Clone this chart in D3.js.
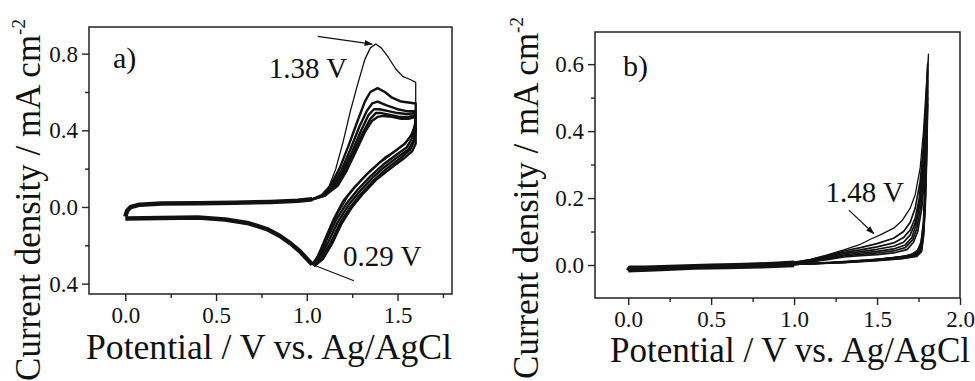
<!DOCTYPE html>
<html>
<head>
<meta charset="utf-8">
<script src="https://cdn.jsdelivr.net/npm/d3@7"></script>
</head>
<body style="margin:0">
<svg id="chart" width="975" height="381" font-family="Liberation Serif"></svg>
<script>
var FONT = "Liberation Serif";

// ---------- data: panel a (CV cycles, potential V, current mA cm-2) ----------
var aLowFwd = [[0.0,-0.05],[0.01,-0.02],[0.03,0.0],[0.08,0.012],[0.2,0.018],[0.4,0.02],[0.6,0.022],[0.8,0.026],[0.95,0.032],[1.03,0.04]];
var aLowRev = [[1.03,-0.3],[1.0,-0.27],[0.96,-0.23],[0.91,-0.19],[0.85,-0.15],[0.78,-0.115],[0.68,-0.085],[0.55,-0.065],[0.4,-0.055],[0.2,-0.057],[0.0,-0.06]];

var aCycle1 = [[1.03,0.04],[1.08,0.055],[1.12,0.1],[1.16,0.2],[1.2,0.34],[1.24,0.5],[1.28,0.64],[1.32,0.77],[1.35,0.83],[1.38,0.85],[1.41,0.83],[1.45,0.78],[1.49,0.72],[1.53,0.68],[1.57,0.665],[1.6,0.65],
  [1.6,0.55],[1.6,0.48],[1.59,0.41],[1.56,0.35],[1.5,0.3],[1.43,0.26],[1.36,0.2],[1.29,0.13],[1.23,0.06],[1.18,-0.02],[1.13,-0.11],[1.09,-0.2],[1.05,-0.27],[1.03,-0.3]];
var aCycle2 = [[1.03,0.04],[1.08,0.06],[1.13,0.11],[1.18,0.2],[1.23,0.32],[1.28,0.45],[1.32,0.55],[1.35,0.6],[1.39,0.62],[1.43,0.6],[1.47,0.57],[1.52,0.55],[1.56,0.545],[1.6,0.54],
  [1.6,0.5],[1.6,0.44],[1.58,0.38],[1.54,0.33],[1.47,0.28],[1.4,0.23],[1.33,0.17],[1.26,0.1],[1.2,0.03],[1.15,-0.06],[1.1,-0.17],[1.06,-0.26],[1.03,-0.3]];
var aCycle3 = [[1.03,0.04],[1.09,0.06],[1.14,0.11],[1.19,0.19],[1.24,0.3],[1.29,0.42],[1.33,0.5],[1.36,0.54],[1.39,0.55],[1.44,0.53],[1.5,0.51],[1.55,0.5],[1.6,0.5],
  [1.6,0.46],[1.6,0.41],[1.58,0.36],[1.55,0.31],[1.49,0.27],[1.42,0.22],[1.35,0.16],[1.28,0.09],[1.22,0.02],[1.16,-0.07],[1.11,-0.17],[1.07,-0.26],[1.03,-0.3]];
var aCycle4 = [[1.03,0.04],[1.09,0.06],[1.15,0.11],[1.2,0.19],[1.25,0.29],[1.3,0.4],[1.34,0.48],[1.37,0.51],[1.4,0.51],[1.45,0.5],[1.5,0.49],[1.55,0.485],[1.6,0.49],
  [1.6,0.45],[1.6,0.4],[1.59,0.35],[1.56,0.3],[1.5,0.26],[1.43,0.21],[1.36,0.15],[1.29,0.08],[1.23,0.01],[1.17,-0.08],[1.12,-0.18],[1.07,-0.27],[1.03,-0.3]];
var aCycle5 = [[1.03,0.04],[1.1,0.06],[1.16,0.11],[1.21,0.19],[1.26,0.29],[1.31,0.39],[1.35,0.46],[1.38,0.49],[1.41,0.49],[1.46,0.48],[1.51,0.47],[1.56,0.47],[1.6,0.48],
  [1.6,0.44],[1.6,0.39],[1.59,0.34],[1.57,0.3],[1.51,0.25],[1.44,0.2],[1.37,0.14],[1.3,0.07],[1.24,0.0],[1.18,-0.09],[1.13,-0.19],[1.08,-0.27],[1.03,-0.3]];
var aCycle6 = [[1.03,0.04],[1.1,0.06],[1.17,0.11],[1.22,0.19],[1.27,0.29],[1.32,0.39],[1.36,0.45],[1.39,0.47],[1.42,0.475],[1.47,0.47],[1.52,0.46],[1.56,0.46],[1.6,0.47],
  [1.6,0.43],[1.6,0.38],[1.6,0.33],[1.58,0.29],[1.53,0.25],[1.46,0.2],[1.38,0.14],[1.31,0.07],[1.25,0.0],[1.19,-0.09],[1.14,-0.19],[1.09,-0.27],[1.04,-0.31]];

// ---------- data: panel b ----------
var bLowFwd = [[0.0,-0.017],[0.01,-0.009],[0.1,-0.009],[0.3,-0.006],[0.5,-0.003],[0.7,-0.001],[0.9,0.003],[1.0,0.006]];
var bLowRev = [[1.0,0.001],[0.8,-0.003],[0.6,-0.005],[0.4,-0.007],[0.2,-0.011],[0.0,-0.015]];

var bCycle1 = [[1.0,0.008],[1.1,0.017],[1.2,0.03],[1.3,0.045],[1.4,0.062],[1.46,0.077],[1.52,0.09],[1.6,0.11],[1.65,0.132],[1.7,0.17],[1.73,0.21],[1.76,0.29],[1.78,0.4],[1.795,0.52],[1.81,0.63],
  [1.805,0.55],[1.8,0.45],[1.795,0.33],[1.788,0.2],[1.78,0.12],[1.765,0.07],[1.745,0.045],[1.7,0.03],[1.6,0.022],[1.45,0.015],[1.3,0.01],[1.15,0.005],[1.0,0.002]];
var bCycle2 = [[1.0,0.008],[1.1,0.016],[1.2,0.028],[1.3,0.042],[1.4,0.052],[1.5,0.064],[1.6,0.08],[1.66,0.1],[1.7,0.128],[1.73,0.17],[1.76,0.25],[1.78,0.36],[1.795,0.48],[1.805,0.6],
  [1.802,0.5],[1.797,0.38],[1.79,0.25],[1.78,0.13],[1.765,0.065],[1.74,0.038],[1.68,0.027],[1.55,0.019],[1.4,0.012],[1.2,0.006],[1.0,0.002]];
var bCycle3 = [[1.0,0.007],[1.1,0.014],[1.2,0.025],[1.3,0.038],[1.4,0.045],[1.5,0.054],[1.6,0.066],[1.66,0.082],[1.7,0.105],[1.73,0.14],[1.755,0.2],[1.775,0.3],[1.792,0.44],[1.805,0.58],
  [1.802,0.48],[1.797,0.35],[1.79,0.22],[1.78,0.12],[1.765,0.06],[1.74,0.035],[1.66,0.025],[1.5,0.017],[1.3,0.01],[1.0,0.002]];
var bCycle4 = [[1.0,0.006],[1.1,0.012],[1.2,0.022],[1.3,0.034],[1.4,0.04],[1.5,0.047],[1.6,0.056],[1.66,0.068],[1.7,0.09],[1.73,0.125],[1.755,0.19],[1.775,0.29],[1.792,0.42],[1.805,0.55],
  [1.802,0.46],[1.797,0.33],[1.79,0.2],[1.78,0.1],[1.765,0.055],[1.74,0.033],[1.65,0.024],[1.5,0.016],[1.3,0.009],[1.0,0.002]];
var bCycle5 = [[1.0,0.005],[1.1,0.011],[1.2,0.02],[1.3,0.03],[1.4,0.036],[1.5,0.041],[1.6,0.048],[1.67,0.06],[1.71,0.082],[1.735,0.12],[1.76,0.19],[1.78,0.29],[1.795,0.41],[1.805,0.52],
  [1.802,0.44],[1.797,0.31],[1.79,0.19],[1.78,0.1],[1.767,0.05],[1.74,0.03],[1.65,0.022],[1.5,0.015],[1.3,0.008],[1.0,0.002]];
var bCycle6 = [[1.0,0.005],[1.1,0.01],[1.2,0.018],[1.3,0.027],[1.4,0.032],[1.5,0.036],[1.6,0.042],[1.67,0.052],[1.715,0.075],[1.74,0.11],[1.765,0.18],[1.783,0.28],[1.797,0.4],[1.805,0.5],
  [1.802,0.42],[1.797,0.3],[1.79,0.18],[1.78,0.09],[1.768,0.045],[1.74,0.028],[1.65,0.02],[1.5,0.014],[1.3,0.008],[1.0,0.002]];
var bCycle7 = [[1.0,0.004],[1.1,0.009],[1.2,0.016],[1.3,0.024],[1.4,0.028],[1.5,0.031],[1.6,0.036],[1.68,0.046],[1.72,0.068],[1.745,0.1],[1.77,0.17],[1.787,0.27],[1.798,0.38],[1.805,0.48],
  [1.802,0.4],[1.797,0.28],[1.79,0.17],[1.78,0.085],[1.768,0.04],[1.74,0.026],[1.65,0.019],[1.5,0.013],[1.3,0.007],[1.0,0.002]];

// ---------- ticks and labels ----------
var aYTicks = [0.8, 0.4, 0.0, -0.4];
var aYTickLabels = ["0.8", "0.4", "0.0", "0.4"];
var aYMinor = [0.6, 0.2, -0.2];
var aXTicks = [0.0, 0.5, 1.0, 1.5];
var aXMinor = [0.25, 0.75, 1.25, 1.75];

var bYTicks = [0.6, 0.4, 0.2, 0.0];
var bYTickLabels = ["0.6", "0.4", "0.2", "0.0"];
var bYMinor = [0.5, 0.3, 0.1];
var bXTicks = [0.0, 0.5, 1.0, 1.5, 2.0];
var bXMinor = [0.25, 0.75, 1.25, 1.75];

var xTitle = "Potential / V vs. Ag/AgCl";
var yTitle = "Current density / mA cm";
var yTitleSup = "-2";

// annotations in data coordinates
var aNotes = [{text: "1.38 V", x: 0.79, y: 0.675}, {text: "0.29 V", x: 1.2, y: -0.31}];
var aArrow = [[1.06, 0.89], [1.36, 0.85]];
var aLine = [[1.03, -0.3], [1.26, -0.385]];
var bNotes = [{text: "1.48 V", x: 1.19, y: 0.188}];
var bArrow = [[1.33, 0.164], [1.48, 0.094]];

var svg = d3.select("#chart");

svg.append("defs").append("marker")
  .attr("id", "head")
  .attr("viewBox", "0 0 10 10")
  .attr("refX", 9).attr("refY", 5)
  .attr("markerWidth", 7).attr("markerHeight", 7)
  .attr("orient", "auto")
  .append("path")
  .attr("d", "M0,1.5 L10,5 L0,8.5 Z")
  .attr("fill", "#111");

function drawPanel(p) {
  var x = d3.scaleLinear().domain(p.xDomain).range([p.left, p.right]);
  var y = d3.scaleLinear().domain(p.yDomain).range([p.bottom, p.top]);
  var g = svg.append("g");

  var line = d3.line()
    .x(function (d) { return x(d[0]); })
    .y(function (d) { return y(d[1]); });

  // low potential band (all cycles overlap here)
  p.low.forEach(function (seg) {
    g.append("path").attr("d", line(seg))
      .attr("fill", "none").attr("stroke", "#111")
      .attr("stroke-width", p.lowWidth).attr("stroke-linejoin", "round");
  });

  p.cycles.forEach(function (c, i) {
    g.append("path").attr("d", line(c))
      .attr("fill", "none").attr("stroke", "#111")
      .attr("stroke-width", i == 0 ? p.firstWidth : p.lineWidth)
      .attr("stroke-linejoin", "round");
  });

  // frame
  g.append("rect")
    .attr("x", p.left).attr("y", p.top)
    .attr("width", p.right - p.left).attr("height", p.bottom - p.top)
    .attr("fill", "none").attr("stroke", "#222").attr("stroke-width", 1.5);

  // minor ticks (no labels)
  var yMinor = g.append("g").attr("transform", "translate(" + p.left + ",0)")
    .call(d3.axisLeft(y).tickValues(p.yMinor).tickSize(4));
  var xMinor = g.append("g").attr("transform", "translate(0," + p.bottom + ")")
    .call(d3.axisBottom(x).tickValues(p.xMinor).tickSize(4));
  yMinor.selectAll("text").remove();
  xMinor.selectAll("text").remove();

  // major ticks
  var yAxis = g.append("g").attr("transform", "translate(" + p.left + ",0)")
    .call(d3.axisLeft(y).tickValues(p.yTicks).tickSize(7).tickPadding(4)
      .tickFormat(function (d, i) { return p.yLabels[i]; }));
  var xAxis = g.append("g").attr("transform", "translate(0," + p.bottom + ")")
    .call(d3.axisBottom(x).tickValues(p.xTicks).tickSize(7).tickPadding(6)
      .tickFormat(d3.format(".1f")));

  [yMinor, xMinor, yAxis, xAxis].forEach(function (a) {
    a.attr("font-family", FONT).attr("font-size", 23);
    a.select(".domain").remove();
    a.selectAll("line").attr("stroke", "#222").attr("stroke-width", 1.4);
    a.selectAll("text").attr("font-family", FONT).attr("font-size", 23).attr("fill", "#111");
  });

  // panel letter
  g.append("text").attr("x", p.letterX).attr("y", p.letterY)
    .attr("font-family", FONT).attr("font-size", 30).attr("fill", "#111").text(p.letter);

  // notes
  p.notes.forEach(function (n) {
    g.append("text").attr("x", x(n.x)).attr("y", y(n.y))
      .attr("font-family", FONT).attr("font-size", 29).attr("fill", "#111").text(n.text);
  });
  if (p.arrow) {
    g.append("path").attr("d", line(p.arrow))
      .attr("stroke", "#111").attr("stroke-width", 1.2)
      .attr("marker-end", "url(#head)");
  }
  if (p.plain) {
    g.append("path").attr("d", line(p.plain))
      .attr("stroke", "#111").attr("stroke-width", 1.2);
  }

  // titles
  g.append("text")
    .attr("x", p.xTitleX).attr("y", p.xTitleY)
    .attr("font-family", FONT).attr("fill", "#111")
    .attr("text-anchor", "middle").attr("font-size", 35)
    .attr("textLength", p.xTitleLen).attr("lengthAdjust", "spacingAndGlyphs")
    .text(xTitle);

  var yt = g.append("text")
    .attr("transform", "translate(" + p.yTitleX + "," + p.yTitleY + ") rotate(-90)")
    .attr("font-family", FONT).attr("fill", "#111")
    .attr("text-anchor", "middle").attr("font-size", 35);
  yt.append("tspan").text(yTitle);
  yt.append("tspan").attr("font-size", 19).attr("dy", -15).text(yTitleSup);
}

drawPanel({
  left: 89, right: 452, top: 27, bottom: 294,
  xDomain: [-0.2, 1.8], yDomain: [-0.454, 0.939],
  low: [aLowFwd, aLowRev], lowWidth: 4.5, lineWidth: 2.4, firstWidth: 1.3,
  cycles: [aCycle1, aCycle2, aCycle3, aCycle4, aCycle5, aCycle6],
  yTicks: aYTicks, yLabels: aYTickLabels, yMinor: aYMinor,
  xTicks: aXTicks, xMinor: aXMinor,
  letter: "a)", letterX: 113, letterY: 68,
  notes: aNotes, arrow: aArrow, plain: aLine,
  xTitleX: 269, xTitleY: 359, xTitleLen: 366,
  yTitleX: 40, yTitleY: 200
});

drawPanel({
  left: 595, right: 960, top: 32, bottom: 298,
  xDomain: [-0.2, 2.0], yDomain: [-0.0985, 0.696],
  low: [bLowFwd, bLowRev], lowWidth: 5, lineWidth: 1.7, firstWidth: 1.3,
  cycles: [bCycle1, bCycle2, bCycle3, bCycle4, bCycle5, bCycle6, bCycle7],
  yTicks: bYTicks, yLabels: bYTickLabels, yMinor: bYMinor,
  xTicks: bXTicks, xMinor: bXMinor,
  letter: "b)", letterX: 623, letterY: 76,
  notes: bNotes, arrow: bArrow, plain: null,
  xTitleX: 790, xTitleY: 362, xTitleLen: 360,
  yTitleX: 538, yTitleY: 198
});
</script>
</body>
</html>
